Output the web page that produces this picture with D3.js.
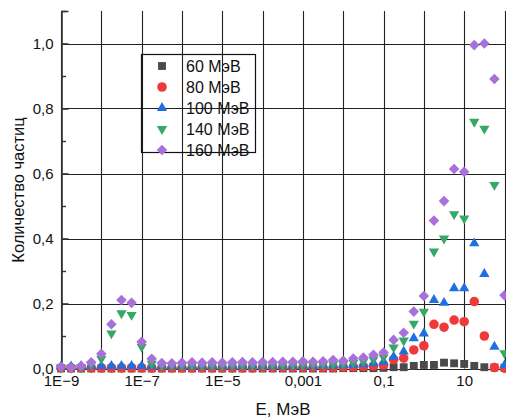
<!DOCTYPE html>
<html>
<head>
<meta charset="utf-8">
<script src="https://cdn.jsdelivr.net/npm/d3@7"></script>
<style>
  body { margin: 0; background: #fff; }
  svg { display: block; font-family: "Liberation Sans", Arial, sans-serif; }
  .tick text { font-size: 15px; fill: #111; }
</style>
</head>
<body>
<svg id="chart" width="506" height="417"></svg>
<script>
// energies as log10 exponents, one point every quarter decade
const logE = [-9, -8.75, -8.5, -8.25, -8, -7.75, -7.5, -7.25, -7, -6.75, -6.5, -6.25,
  -6, -5.75, -5.5, -5.25, -5, -4.75, -4.5, -4.25, -4, -3.75, -3.5, -3.25,
  -3, -2.75, -2.5, -2.25, -2, -1.75, -1.5, -1.25, -1, -0.75, -0.5, -0.25,
  0, 0.25, 0.5, 0.75, 1, 1.25, 1.5, 1.75, 2];

const mev60 = [0, 0, 0, 0, 0, 0, 0, 0, 0, 0, 0, 0,
  0, 0, 0, 0, 0, 0, 0, 0, 0, 0, 0, 0,
  0, 0, 0, 0, 0.001, 0.001, 0.001, 0.001, 0.002, 0.004, 0.004, 0.008,
  0.011, 0.011, 0.018, 0.016, 0.014, 0.008, 0.004, 0.003, 0.002];

const mev80 = [0.002, 0.002, 0.002, 0.002, 0.002, 0.002, 0.002, 0.002, 0.002, 0.002, 0.002, 0.002,
  0.002, 0.002, 0.002, 0.002, 0.002, 0.002, 0.002, 0.002, 0.003, 0.003, 0.003, 0.003,
  0.003, 0.003, 0.003, 0.003, 0.004, 0.005, 0.006, 0.008, 0.011, 0.027, 0.032, 0.057,
  0.070, 0.136, 0.127, 0.149, 0.144, 0.206, 0.100, 0.003, 0.001];

const mev100 = [0.006, 0.006, 0.007, 0.008, 0.008, 0.008, 0.008, 0.008, 0.008, 0.008, 0.008, 0.008,
  0.008, 0.008, 0.008, 0.008, 0.008, 0.008, 0.008, 0.008, 0.008, 0.008, 0.008, 0.008,
  0.008, 0.008, 0.009, 0.009, 0.010, 0.011, 0.013, 0.016, 0.021, 0.036, 0.052, 0.093,
  0.108, 0.211, 0.202, 0.247, 0.247, 0.385, 0.291, 0.067, 0.010];

const mev140 = [0.003, 0.002, 0.004, 0.012, 0.030, 0.108, 0.170, 0.165, 0.067, 0.015, 0.009, 0.009,
  0.009, 0.009, 0.009, 0.009, 0.009, 0.010, 0.010, 0.010, 0.010, 0.010, 0.010, 0.011,
  0.011, 0.011, 0.012, 0.013, 0.014, 0.018, 0.022, 0.028, 0.035, 0.065, 0.086, 0.138,
  0.175, 0.360, 0.400, 0.475, 0.462, 0.759, 0.738, 0.565, 0.047];

const mev160 = [0.005, 0.003, 0.008, 0.019, 0.045, 0.136, 0.211, 0.202, 0.082, 0.030, 0.017, 0.016,
  0.018, 0.019, 0.018, 0.019, 0.018, 0.019, 0.020, 0.019, 0.020, 0.020, 0.021, 0.021,
  0.022, 0.021, 0.022, 0.026, 0.024, 0.031, 0.034, 0.042, 0.049, 0.088, 0.110, 0.175,
  0.223, 0.455, 0.515, 0.614, 0.605, 0.995, 1.000, 0.891, 0.225];

const seriesNames = ['60 МэВ', '80 МэВ', '100 МэВ', '140 МэВ', '160 МэВ'];
const seriesColors = ['#4a4a4a', '#f03a3a', '#1f6fe0', '#36a865', '#a870db'];

const xTickValues = [1e-9, 1e-7, 1e-5, 1e-3, 1e-1, 10];
const xTickLabels = ['1E−9', '1E−7', '1E−5', '0,001', '0,1', '10'];
const yTickValues = [0, 0.2, 0.4, 0.6, 0.8, 1.0];
const yMinorTicks = [0.1, 0.3, 0.5, 0.7, 0.9, 1.1];

const width = 506, height = 417;
const margin = { left: 61, top: 11, bottom: 48.5 };

const svg = d3.select('#chart');

const x = d3.scaleLog()
  .domain([1e-9, 100])
  .range([margin.left, 504.5]);

const y = d3.scaleLinear()
  .domain([0, 1.1])
  .range([height - margin.bottom, margin.top]);

const decades = d3.range(-9, 3).map(e => Math.pow(10, e));

// grid
const grid = svg.append('g').attr('stroke', '#222').attr('stroke-width', 1.1);
decades.forEach(d => {
  grid.append('line')
    .attr('x1', Math.round(x(d)) + 0.5).attr('x2', Math.round(x(d)) + 0.5)
    .attr('y1', y(1.1)).attr('y2', y(0));
});
yTickValues.forEach(v => {
  grid.append('line')
    .attr('x1', margin.left).attr('x2', width)
    .attr('y1', Math.round(y(v)) + 0.5).attr('y2', Math.round(y(v)) + 0.5);
});

// y axis
let yAxis = svg.append('g')
  .attr('transform', `translate(${margin.left + 0.5},0)`)
  .call(d3.axisLeft(y)
    .tickValues(yTickValues)
    .tickFormat(d => d3.format('.1f')(d).replace('.', ','))
    .tickSize(-7)
    .tickPadding(8));
yAxis.select('.domain').attr('stroke', '#333').attr('stroke-width', 1.6);
yAxis.selectAll('.tick line').attr('stroke', '#333').attr('stroke-width', 1.6);

svg.append('g').selectAll('line')
  .data(yMinorTicks)
  .join('line')
  .attr('x1', margin.left).attr('x2', margin.left + 5)
  .attr('y1', d => Math.round(y(d)) + 0.5).attr('y2', d => Math.round(y(d)) + 0.5)
  .attr('stroke', '#333').attr('stroke-width', 1.4);

// x axis labels
let xAxis = svg.append('g')
  .attr('transform', `translate(0,${y(0)})`)
  .call(d3.axisBottom(x)
    .tickValues(xTickValues)
    .tickFormat((d, i) => xTickLabels[i])
    .tickSize(0)
    .tickPadding(7));
xAxis.select('.domain').remove();

// points, drawn 60 first so 160 ends on top
const series = [mev60, mev80, mev100, mev140, mev160];
const shapes = [
  { type: d3.symbolSquare, size: 62, rot: 0 },
  { type: d3.symbolCircle, size: 72, rot: 0 },
  { type: d3.symbolTriangle, size: 46, rot: 0 },
  { type: d3.symbolTriangle, size: 46, rot: 180 },
  { type: d3.symbolSquare, size: 56, rot: 45 }
];

series.forEach((vals, s) => {
  let sym = d3.symbol().type(shapes[s].type).size(shapes[s].size);
  svg.append('g')
    .selectAll('path')
    .data(vals)
    .join('path')
    .attr('d', sym)
    .attr('transform', (d, i) => `translate(${x(Math.pow(10, logE[i]))},${y(d)}) rotate(${shapes[s].rot})`)
    .attr('fill', seriesColors[s]);
});

// legend
const legend = svg.append('g');
legend.append('rect')
  .attr('x', 141.5).attr('y', 54.5)
  .attr('width', 114).attr('height', 98)
  .attr('fill', 'none').attr('stroke', '#111').attr('stroke-width', 1.2);

seriesNames.forEach((name, s) => {
  let cy = 66 + s * 21;
  legend.append('path')
    .attr('d', d3.symbol().type(shapes[s].type).size(shapes[s].size)())
    .attr('transform', `translate(162,${cy}) rotate(${shapes[s].rot})`)
    .attr('fill', seriesColors[s]);
  legend.append('text')
    .attr('x', 186).attr('y', cy + 6)
    .attr('font-size', 16)
    .attr('fill', '#111')
    .text(name);
});

// titles
svg.append('text')
  .attr('transform', `translate(24,190) rotate(-90)`)
  .attr('text-anchor', 'middle')
  .attr('font-size', 16.5)
  .attr('fill', '#111')
  .text('Количество частиц');

svg.append('text')
  .attr('x', 283).attr('y', 415)
  .attr('text-anchor', 'middle')
  .attr('font-size', 17)
  .attr('fill', '#111')
  .text('E, МэВ');
</script>
</body>
</html>
